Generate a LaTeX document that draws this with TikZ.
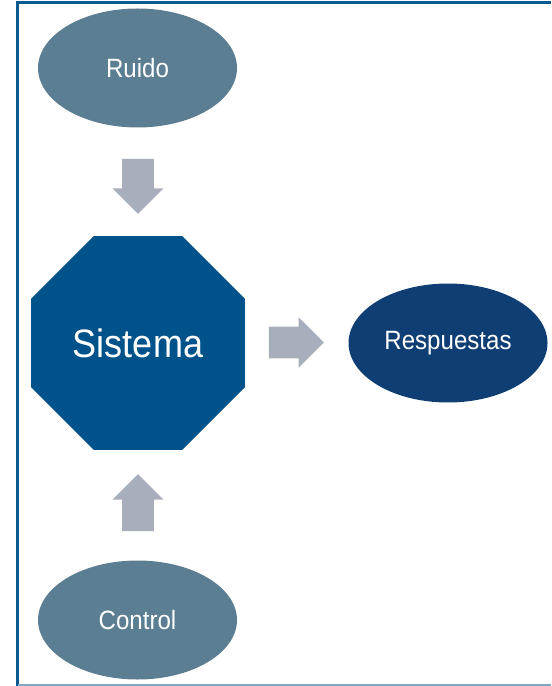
\documentclass[tikz,border=0pt]{standalone}
\usepackage{fontspec}
\setmainfont{Liberation Sans}
\usetikzlibrary{shapes.geometric,shapes.arrows}
\definecolor{grisazul}{HTML}{5B7E93}
\definecolor{azulsistema}{HTML}{00528A}
\definecolor{azulrespuesta}{HTML}{0F3E74}
\definecolor{grisflecha}{HTML}{A9AEBC}
\definecolor{marco}{HTML}{0A5A92}
\definecolor{marcoclaro}{HTML}{7FA7BF}
% slightly taller letters, as in the original slide
\newcommand{\alto}[1]{\scalebox{1}[1.1]{#1}}
\tikzset{
  every picture/.style={
    line width=1pt
  },
  entrada/.style={ellipse, fill=grisazul, text=white, inner sep=0pt,
    minimum width=3.98cm, minimum height=2.38cm,
    font=\fontsize{13.7}{16}\selectfont},
  % block arrows between the boxes
  flecha/.style={single arrow, fill=grisflecha, minimum height=1.1cm,
    inner xsep=0pt, inner ysep=0.3cm, anchor=tail,
    single arrow head extend=0.19cm, single arrow head indent=0pt}
}

\begin{document}
\begin{tikzpicture}
  \useasboundingbox (0,0) rectangle (11.02,-13.72);
  % frame
  \draw[marco, line width=1.7pt] (0.35,-13.72) -- (0.35,-0.05) -- (11.02,-0.05);
  \draw[marcoclaro, line width=0.6pt] (0.35,-13.70) -- (11.02,-13.70);

  \node[entrada] (ruido) at (2.75,-1.36) {\alto{Ruido}};
  \node[regular polygon, regular polygon sides=8, minimum size=4.63cm, inner sep=0pt,
    fill=azulsistema, text=white, font=\fontsize{20.5}{24}\selectfont] (sistema) at (2.76,-6.86) {\alto{Sistema}};
  \node[entrada, fill=azulrespuesta] (respuestas) at (8.96,-6.86) {\alto{Respuestas}};
  \node[entrada] (control) at (2.75,-12.40) {\alto{Control}};

  \node[flecha, rotate=-90] (bajada) at (2.76,-3.16) {};
  \node[flecha] (salida) at (5.36,-6.85) {};
  \node[flecha, rotate=90, minimum height=1.14cm] (subida) at (2.76,-10.64) {};
\end{tikzpicture}
\end{document}
